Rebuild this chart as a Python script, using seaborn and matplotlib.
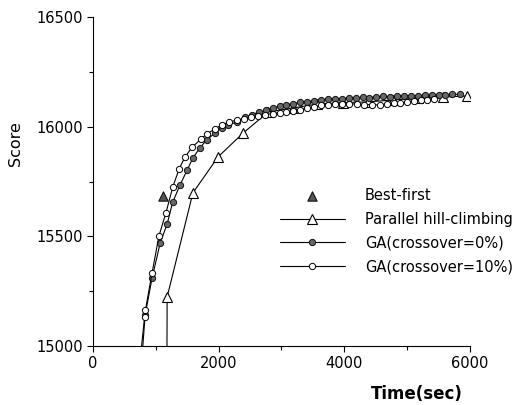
import numpy as np
import pandas as pd
import matplotlib as mpl
mpl.use("Agg")
import matplotlib.pyplot as plt
import seaborn as sns

# data
best_t = [1115]
best_s = [15684]

hc_t = [1160, 1180, 1590, 1990, 2390, 2790, 3180, 3570, 3980, 4380, 4780, 5175, 5570, 5960]
hc_s = [13500, 15223, 15698, 15862, 15971, 16067, 16085, 16103, 16110, 16113, 16122, 16130, 16135, 16140]

ga0_t = [740, 830, 940, 1070, 1180, 1270, 1385, 1500, 1590, 1700, 1810, 1940, 2050, 2150, 2290, 2420,
         2530, 2640, 2750, 2860, 2970, 3080, 3190, 3300, 3410, 3520, 3630, 3740, 3850, 3960, 4070,
         4180, 4290, 4400, 4510, 4620, 4730, 4840, 4950, 5060, 5170, 5280, 5390, 5500, 5610, 5720, 5840]
ga0_s = [14800, 15141, 15310, 15470, 15556, 15657, 15734, 15803, 15857, 15903, 15939, 15971, 15994, 16008, 16021, 16044,
         16055, 16066, 16074, 16086, 16092, 16101, 16105, 16111, 16113, 16119, 16120, 16124, 16124, 16128, 16130,
         16131, 16134, 16133, 16136, 16138, 16137, 16140, 16140, 16142, 16141, 16144, 16143, 16146, 16145, 16147, 16148]

ga10_t = [720, 820, 835, 940, 1050, 1160, 1270, 1370, 1465, 1580, 1720, 1815, 1940, 2050, 2170, 2290, 2400,
          2520, 2630, 2740, 2860, 2970, 3080, 3190, 3300, 3410, 3520, 3630, 3740, 3850, 3960, 4070, 4200,
          4310, 4440, 4570, 4680, 4790, 4890, 5000, 5110, 5220, 5320, 5430]
ga10_s = [14850, 15130, 15164, 15333, 15502, 15606, 15725, 15807, 15862, 15907, 15944, 15967, 15990, 16008, 16021, 16030, 16035,
          16043, 16050, 16055, 16060, 16064, 16068, 16073, 16078, 16085, 16090, 16097, 16100, 16102, 16103, 16103, 16104,
          16101, 16100, 16099, 16104, 16106, 16108, 16112, 16116, 16120, 16122, 16125]

sns.set_theme(style="ticks", rc={"text.color": "black", "axes.labelcolor": "black",
                                 "xtick.color": "black", "ytick.color": "black"})
plt.rcParams['font.family'] = ['DejaVu Sans']

fig = plt.figure(figsize=(5.21, 4.05), dpi=100)
ax = fig.add_axes([0.1785, 0.1457, 0.7235, 0.8123])

sns.scatterplot(x=best_t, y=best_s, marker="^", s=45, color="#555555", edgecolor="#111111",
                linewidth=0.8, label="Best-first", ax=ax, zorder=5)
sns.lineplot(x=hc_t, y=hc_s, sort=False, estimator=None, color="black", lw=0.8,
             marker="^", markersize=7, markerfacecolor="white", markeredgecolor="black", markeredgewidth=0.8,
             label="Parallel hill-climbing", ax=ax, zorder=3)
sns.lineplot(x=ga0_t, y=ga0_s, sort=False, estimator=None, color="black", lw=0.8,
             marker="o", markersize=4.5, markerfacecolor="#666666", markeredgecolor="#111111", markeredgewidth=0.7,
             label="GA(crossover=0%)", ax=ax, zorder=4)
sns.lineplot(x=ga10_t, y=ga10_s, sort=False, estimator=None, color="black", lw=0.8,
             marker="o", markersize=4.5, markerfacecolor="white", markeredgecolor="black", markeredgewidth=0.7,
             label="GA(crossover=10%)", ax=ax, zorder=4)

ax.set_xlim(0, 6000)
ax.set_ylim(15000, 16500)
ax.xaxis.set_major_locator(mpl.ticker.MultipleLocator(2000))
ax.xaxis.set_minor_locator(mpl.ticker.MultipleLocator(1000))
ax.yaxis.set_major_locator(mpl.ticker.MultipleLocator(500))
ax.yaxis.set_minor_locator(mpl.ticker.MultipleLocator(250))
ax.tick_params(which="major", length=4, width=0.8, labelsize=10.5, color="black", labelcolor="black")
ax.tick_params(which="minor", length=3, width=0.8, color="black")
sns.despine(ax=ax)
for sp in ("left", "bottom"):
    ax.spines[sp].set_linewidth(0.8)
    ax.spines[sp].set_color("black")

ax.set_xlabel("")
ax.set_ylabel("Score", fontsize=11.5, color="black")
ax.yaxis.set_label_coords(-0.185, 0.614)
ax.text(0.981, -0.161, "Time(sec)", transform=ax.transAxes, ha="right", va="baseline",
        fontsize=12, fontweight="bold", color="black")

leg = ax.legend(loc="upper left", bbox_to_anchor=(0.496, 0.48), frameon=False, fontsize=10.5,
                handlelength=4.45, handletextpad=1.37, labelspacing=0.6, borderaxespad=0, borderpad=0)
for t in leg.get_texts():
    t.set_color("black")

fig.savefig("out.png", dpi=100)
